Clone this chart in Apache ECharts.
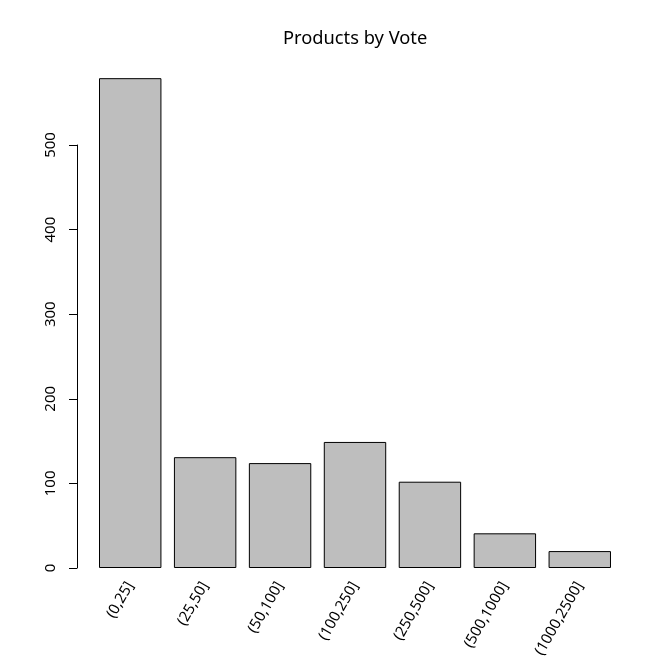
<!DOCTYPE html>
<html><head><meta charset="utf-8">
<script src="https://cdn.jsdelivr.net/npm/echarts@6/dist/echarts.min.js"></script>
<style>html,body{margin:0;padding:0;background:#fff}#c{width:672px;height:671px}</style>
</head><body><div id="c"></div>
<script>
const categories = ['(0,25]','(25,50]','(50,100]','(100,250]','(250,500]','(500,1000]','(1000,2500]'];
const counts = [579, 131, 124, 149, 102, 41, 20];
const yTicks = [0, 100, 200, 300, 400, 500];
const titleText = 'Products by Vote';

const FONT = 'Noto Sans';
const chart = echarts.init(document.getElementById('c'), null, {renderer:'canvas'});
const bottom = 671 - 568;
const left = 92.75, width = 524.5;
chart.setOption({
  animation: false,
  backgroundColor: '#fff',
  title: {text: titleText, left: 278, top: 25,
    textStyle: {fontFamily: FONT, fontSize: 18.3, fontWeight: 'normal', color: '#000'}},
  grid: [
    {left: left, width: width, bottom: bottom, top: 568 - 600*0.846},
    {left: left, width: width, bottom: bottom, top: 568 - 500*0.846}
  ],
  xAxis: [
    {type: 'category', gridIndex: 0, data: categories,
      axisLine: {show: false}, axisTick: {show: false},
      axisLabel: {rotate: 60, interval: 0, margin: 15, fontFamily: FONT, fontSize: 15, color: '#000'}},
    {type: 'category', gridIndex: 1, data: categories, show: false}
  ],
  yAxis: [
    {type: 'value', gridIndex: 0, min: 0, max: 600, show: false},
    {type: 'value', gridIndex: 1, min: yTicks[0], max: yTicks[yTicks.length-1], interval: 100,
      offset: 15.75,
      axisLine: {show: true, lineStyle: {color: '#000', width: 1}},
      axisTick: {show: true, length: 8, lineStyle: {color: '#000'}},
      splitLine: {show: false},
      axisLabel: {rotate: 90, margin: 19, fontFamily: FONT, fontSize: 15, color: '#000'}}
  ],
  series: [{
    type: 'bar', xAxisIndex: 0, yAxisIndex: 0, data: counts,
    barCategoryGap: '16.7%',
    itemStyle: {color: '#bebebe', borderColor: '#000', borderWidth: 1}
  }]
});
</script></body></html>
